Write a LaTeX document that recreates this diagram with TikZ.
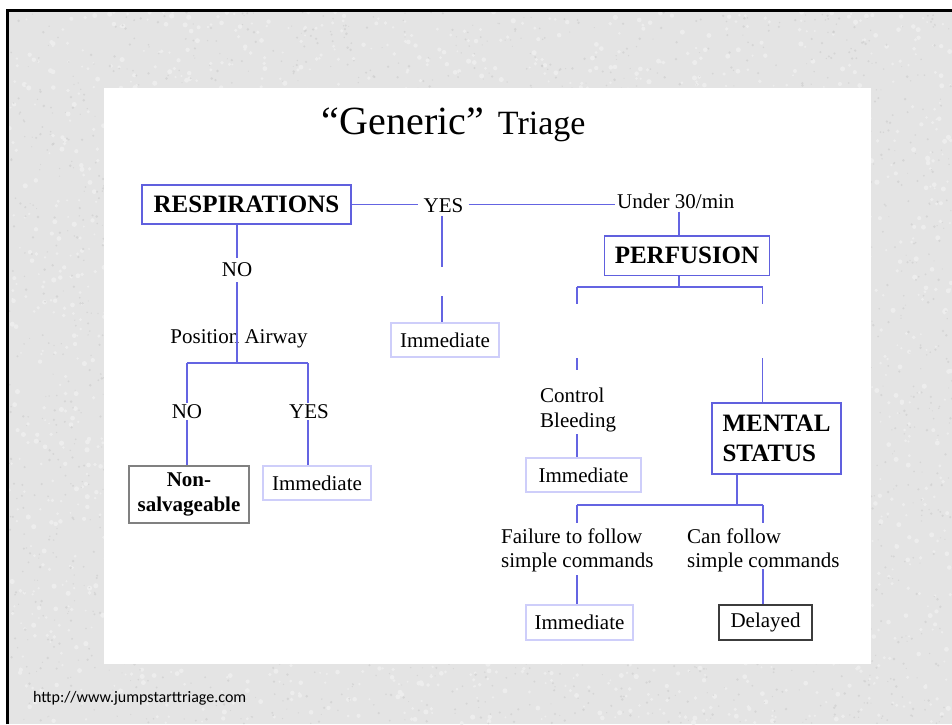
\documentclass[tikz,border=0pt]{standalone}
\usepackage{fontspec}
\setmainfont{Liberation Serif}
\newfontfamily\urlfont{Carlito}
\definecolor{linkblue}{RGB}{100,100,226}
\definecolor{boxblue}{RGB}{96,96,222}
\definecolor{paleblue}{RGB}{206,206,250}
\definecolor{slidegray}{RGB}{228,228,228}
\definecolor{speckdark}{RGB}{204,204,204}
\definecolor{specklight}{RGB}{237,237,237}
\definecolor{greyedge}{RGB}{128,128,128}
\definecolor{darkedge}{RGB}{60,60,60}
\newcommand\fsz[2]{\fontsize{#1}{#2}\selectfont}

\begin{document}
\begin{tikzpicture}[x=1pt,y=-1pt,
  link/.style={draw=linkblue,line width=1.4pt},
  lbl/.style={font=\fsz{21}{25},inner xsep=5pt,inner ysep=3pt,anchor=base},
  txt/.style={font=\fsz{21}{25},inner sep=0pt,align=left,anchor=north west},
  keybox/.style={draw=boxblue,line width=1.5pt,font=\bfseries\fsz{25}{30.4},inner sep=0pt},
  endbox/.style={draw=paleblue,line width=1.5pt,font=\fsz{21}{25},inner sep=0pt},
]
% slide background and frame
\useasboundingbox (0,0) rectangle (952,724);
\fill[white] (0,0) rectangle (952,724);
\fill[slidegray] (9,12) rectangle (952,724);
% granite grain of the slide background
\pgfmathsetseed{4242}
\foreach \k in {1,...,2600}{
  \pgfmathsetmacro{\sx}{9+943*rnd}
  \pgfmathsetmacro{\sy}{12+712*rnd}
  \pgfmathsetmacro{\sr}{1.0+1.6*rnd}
  \fill[specklight] (\sx,\sy) circle[radius=\sr];
}
\foreach \k in {1,...,3200}{
  \pgfmathsetmacro{\sx}{9+943*rnd}
  \pgfmathsetmacro{\sy}{12+712*rnd}
  \pgfmathsetmacro{\sr}{0.5+0.9*rnd}
  \fill[speckdark,opacity=0.6] (\sx,\sy) circle[radius=\sr];
}
\draw[line width=3pt] (7.5,724) -- (7.5,10.5) -- (952,10.5);
\fill[white] (104,88) rectangle (871,664);

% title
\node[anchor=base west,inner sep=0pt] (title) at (321.7,134)
  {{\fsz{40}{48}“Generic”}\hspace{14pt}{\fsz{34}{40}Triage}};

% left branch
\node[keybox,minimum width=209pt,minimum height=39pt] (resp) at (246.5,204.5) {RESPIRATIONS};
\node[lbl,inner ysep=5pt] (no1) at (237,276.7) {NO};
\node[lbl,inner sep=0pt] (pos) at (239,343.3) {Position Airway};
\node[lbl,inner ysep=1.5pt] (no2) at (187,418.3) {NO};
\node[lbl,inner ysep=1.5pt] (yes2) at (309,418.3) {YES};
\node[draw=greyedge,line width=1.3pt,minimum width=120pt,minimum height=57pt,
      inner sep=0pt,align=center,font=\bfseries\fsz{21}{25}] (nons) at (189,494.5) {Non-\\salvageable};
\node[endbox,minimum width=108pt,minimum height=34pt] (imm4) at (317,483) {Immediate};

% middle branch
\node[lbl] (yes1) at (443.5,212.7) {YES};
\node[endbox,minimum width=108pt,minimum height=34pt] (imm1) at (445,340) {Immediate};

% right branch
\node[lbl,inner xsep=2pt,anchor=base west] (under) at (615,208.3) {Under 30/min};
\node[keybox,minimum width=164.6pt,minimum height=39.3pt] (perf) at (687,255.6) {PERFUSION};
\node[txt,font=\fsz{21}{25.5}] (ctrl) at (540,387.4) {Control\\Bleeding};
\node[endbox,minimum width=115pt,minimum height=34pt] (imm2) at (583.5,475) {Immediate\hspace{10pt}};
\node[keybox,minimum width=129pt,minimum height=71pt,align=left] (mental) at (776.5,438.5) {MENTAL\\STATUS};
\node[txt,font=\fsz{21}{24}] (fail) at (501,528.4) {Failure to follow\\simple commands};
\node[txt,font=\fsz{21}{24}] (can) at (687,528.4) {Can follow\\simple commands};
\node[endbox,minimum width=107pt,minimum height=35pt] (imm3) at (579.5,622.5) {Immediate\hspace{4pt}};
\node[draw=darkedge,line width=1.3pt,minimum width=93pt,minimum height=35pt,
      inner sep=0pt,font=\fsz{21}{25}] (delayed) at (765.5,622.5) {Delayed\hspace{8pt}};

% footer
\node[anchor=base west,inner sep=0pt,font=\urlfont\fsz{16}{19}] (url) at (33,702) {http://www.jumpstarttriage.com};

% junction points
\coordinate (paj) at (237,363);
\coordinate (pal) at (187,363);
\coordinate (par) at (308,363);
\coordinate (ygapA) at (442,267);
\coordinate (ygapB) at (442,296);
\coordinate (pv) at (679,287);
\coordinate (pl) at (577,287);
\coordinate (pr) at (762.5,287);
\coordinate (plA) at (577,304);
\coordinate (plB) at (577,358);
\coordinate (prA) at (762.5,304);
\coordinate (prB) at (762.5,358);
\coordinate (ctrlTop) at (577,370);
\coordinate (ctrlBot) at (577,434);
\coordinate (mj) at (737,505);
\coordinate (ml) at (577,505);
\coordinate (mr) at (763,505);
\coordinate (failTop) at (577,523);
\coordinate (canTop) at (763,523);
\coordinate (failBot) at (577,575);
\coordinate (canBot) at (763,569);

% connectors: respirations
\draw[link] (resp.east) -- (resp.east -| yes1.west);
\draw[link] (yes1.east |- resp.east) -- (under.west |- resp.east);
\draw[link] (resp.south -| no1) -- (no1.north);
\draw[link] (no1.south) -- (paj);
\draw[link] (pal) -- (par);
\draw[link] (pal) -- (no2.north);
\draw[link] (par) -- (yes2.north -| par);
\draw[link] (no2.south) -- (no2.south |- nons.north);
\draw[link] (yes2.south -| par) -- (par |- imm4.north);
\draw[link] (yes1.south -| ygapA) -- (ygapA);
\draw[link] (ygapB) -- (ygapB |- imm1.north);

% connectors: perfusion
\draw[link] (under.south -| pv) -- (perf.north -| pv);
\draw[link] (perf.south -| pv) -- (pv);
\draw[link] (pl) -- (pr);
\draw[link] (pl) -- (plA);
\draw[link] (plB) -- (ctrlTop);
\draw[link] (pr) -- (prA);
\draw[link] (prB) -- (prB |- mental.north);
\draw[link] (ctrlBot) -- (ctrlBot |- imm2.north);

% connectors: mental status
\draw[link] (mental.south -| mj) -- (mj);
\draw[link] (ml) -- (mr);
\draw[link] (ml) -- (failTop);
\draw[link] (mr) -- (canTop);
\draw[link] (failBot) -- (failBot |- imm3.north);
\draw[link] (canBot) -- (canBot |- delayed.north);
\end{tikzpicture}
\end{document}
